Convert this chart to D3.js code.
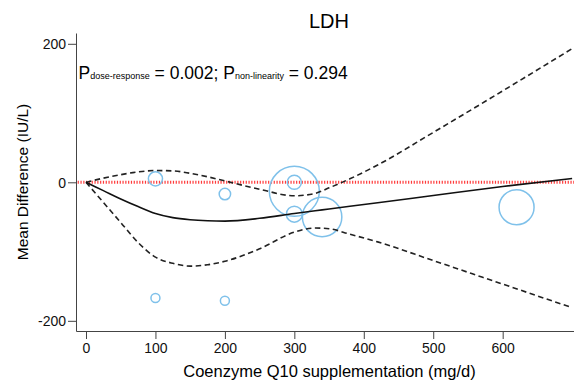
<!DOCTYPE html>
<html>
<head>
<meta charset="utf-8">
<script src="https://cdn.jsdelivr.net/npm/d3@7"></script>
<style>
  body { margin: 0; background: #fff; }
  svg { display: block; font-family: "Liberation Sans", Arial, sans-serif; }
</style>
</head>
<body>
<div id="main"></div>
<script>
// data

const doseGrid = [0, 25, 50, 75, 100, 125, 150, 175, 200, 250, 300, 330, 350, 380, 420, 500, 600, 700];
const fitMD    = [0, -12, -24, -35, -45, -51, -54, -55.5, -56, -52, -45, -41, -38.5, -34.5, -29.5, -19, -6, 5.5];
const upperCI  = [0, 6, 11, 15, 17, 16.5, 13, 8, 2, -10, -19.5, -16, -8, 5, 25, 72, 132, 193];
const lowerCI  = [0, -29, -58, -87, -108, -117, -121, -119, -114, -96, -72, -66, -67, -75, -86, -113, -147, -181];

const studyDose   = [100, 100, 200, 200, 300, 300, 300, 340, 620];
const studyMD     = [5, -167, -17, -171, 0, -13, -46, -50, -36];
const studyWeight = [3.2, 1.3, 2.1, 1.3, 3.2, 40.2, 4.1, 25.0, 19.7];

const xTicks = [0, 100, 200, 300, 400, 500, 600];
const yTicks = [-200, 0, 200];

// SVG

const w = 574;
const h = 380;

const svg = d3.select('#main')
    .append('svg')
    .attr('width', w)
    .attr('height', h)

const x = d3.scaleLinear()
    .domain([-14.4, 702.7])
    .range([76, 574])

const y = d3.scaleLinear()
    .domain([-214.7, 215.6])
    .range([331, 33])

const r = d3.scaleSqrt()
    .domain([0, d3.max(studyWeight)])
    .range([0, 25])

// axes

const xAxis = d3.axisBottom(x)
    .tickValues(xTicks)
    .tickSize(8)
    .tickPadding(4)
    .tickSizeOuter(0)

const yAxis = d3.axisLeft(y)
    .tickValues(yTicks)
    .tickFormat((d) => String(d))
    .tickSize(8)
    .tickPadding(2)
    .tickSizeOuter(0)

svg.append('g')
    .attr('transform', `translate(0, ${y.range()[0]})`)
    .call(xAxis)
    .call(g => g.selectAll('text').style('font-size', '14px').attr('fill', '#111'))
    .call(g => g.selectAll('line, path').attr('stroke', '#444'))
    .style('font-family', 'inherit')

svg.append('g')
    .attr('transform', `translate(${x.range()[0]}, 0)`)
    .call(yAxis)
    .call(g => g.selectAll('text').style('font-size', '14px').attr('fill', '#111').attr('dy', '0.36em'))
    .call(g => g.selectAll('line, path').attr('stroke', '#444'))
    .style('font-family', 'inherit')

// reference line at zero

svg.append('line')
    .attr('x1', x(-12))
    .attr('x2', x.range()[1])
    .attr('y1', y(0))
    .attr('y2', y(0))
    .attr('stroke', '#ff3b3b')
    .attr('stroke-width', 3)
    .attr('stroke-dasharray', '1.2,1.6')

// study circles

svg.selectAll('circle.study')
    .data(studyDose)
    .enter()
    .append('circle')
    .attr('class', 'study')
    .attr('cx', (d) => x(d))
    .attr('cy', (d, i) => y(studyMD[i]))
    .attr('r', (d, i) => r(studyWeight[i]))
    .attr('fill', 'none')
    .attr('stroke', '#7fc1ea')
    .attr('stroke-width', 1.5)

// curves

const line = d3.line()
    .x((d, i) => x(doseGrid[i]))
    .y((d) => y(d))
    .curve(d3.curveMonotoneX)

svg.append('path')
    .attr('d', line(upperCI))
    .attr('fill', 'none')
    .attr('stroke', '#222')
    .attr('stroke-width', 1.6)
    .attr('stroke-dasharray', '5.5,3.5')

svg.append('path')
    .attr('d', line(lowerCI))
    .attr('fill', 'none')
    .attr('stroke', '#222')
    .attr('stroke-width', 1.6)
    .attr('stroke-dasharray', '5.5,3.5')

svg.append('path')
    .attr('d', line(fitMD))
    .attr('fill', 'none')
    .attr('stroke', '#111')
    .attr('stroke-width', 1.6)

// texts

svg.append('text')
    .attr('x', 329)
    .attr('y', 27.5)
    .attr('text-anchor', 'middle')
    .style('font-size', '20px')
    .text('LDH')

const note = svg.append('text')
    .attr('x', 78.5)
    .attr('y', 79)
    .style('font-size', '17.5px')

note.append('tspan').text('P')
note.append('tspan').style('font-size', '9px').text('dose-response')
note.append('tspan').text(' = 0.002; P')
note.append('tspan').style('font-size', '9px').text('non-linearity')
note.append('tspan').text(' = 0.294')

svg.append('text')
    .attr('x', 329.5)
    .attr('y', 376.5)
    .attr('text-anchor', 'middle')
    .style('font-size', '16.5px')
    .text('Coenzyme Q10 supplementation (mg/d)')

svg.append('text')
    .attr('transform', `translate(27.5, ${(y.range()[0] + y.range()[1]) / 2}) rotate(-90)`)
    .attr('text-anchor', 'middle')
    .style('font-size', '15.5px')
    .text('Mean Difference (IU/L)')
</script>
</body>
</html>
